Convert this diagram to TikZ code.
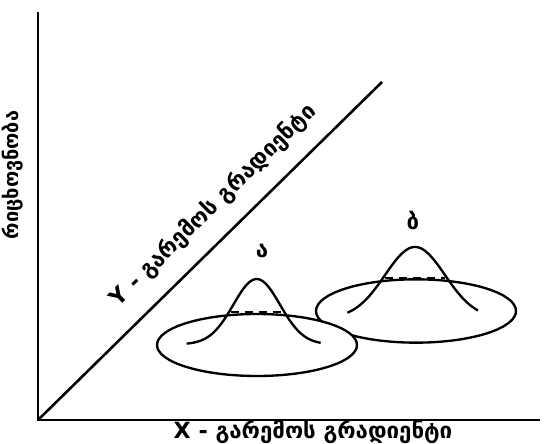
\documentclass[tikz,border=0pt]{standalone}
\usepackage{fontspec}
\setmainfont{DejaVu Sans}
\usetikzlibrary{shapes.geometric}

\begin{document}
\begin{tikzpicture}[
  font=\bfseries,
  axis/.style={line width=2.2pt},
  brim/.style={draw, ellipse, line width=2pt, minimum width=6.0cm, minimum height=1.9cm, inner sep=0pt},
  bell/.style={line width=2pt, smooth, samples=60},
  crest/.style={line width=2pt, dash pattern=on 7pt off 5pt},
  axlab/.style={font=\fontsize{19}{22}\selectfont\bfseries, inner sep=0pt},
  sp/.style={font=\fontsize{19}{22}\selectfont\bfseries, inner sep=0pt}]
\useasboundingbox (0,0) rectangle (16.35,13.32);
% ---------------- axes ----------------
\coordinate (o)    at (1.14,0.72);
\coordinate (ytop) at (1.14,12.96);
\coordinate (xend) at (16.20,0.72);
\coordinate (dend) at (11.46,10.86);
\draw[axis] (ytop) -- (o) -- (xend);
\draw[axis] (o) -- (dend);
\node[axlab] (xlab) at (9.39,0.36) {X - გარემოს გრადიენტი};
\node[axlab, rotate=44.5] (ylab) at (6.40,7.16) {Y - გარემოს გრადიენტი};
\node[axlab, font=\fontsize{17}{20}\selectfont\bfseries, rotate=90] (zlab) at (0.38,8.07) {რიცხოვნობა};
% ---------------- ranges ----------------
\node[brim] (brimB) at (12.48,3.99) {};
\node[brim, fill=white, minimum height=1.86cm] (brimA) at (7.71,2.97) {};
% ---------------- species a ----------------
\draw[bell, domain=5.60:9.62] plot (\x, {2.99+1.96*exp(-(\x-7.70)^2/0.98)});
\draw[crest] (6.92,3.96) -- (8.48,3.96);
\node[sp] (la) at (7.86,5.80) {ა};
% ---------------- species b ----------------
\draw[bell, domain=10.42:14.34] plot (\x, {3.77+2.14*exp(-(\x-12.45)^2/1.62)});
\draw[crest] (11.54,4.98) -- (13.36,4.98);
\node[sp] (lb) at (12.39,6.70) {ბ};
\end{tikzpicture}
\end{document}
